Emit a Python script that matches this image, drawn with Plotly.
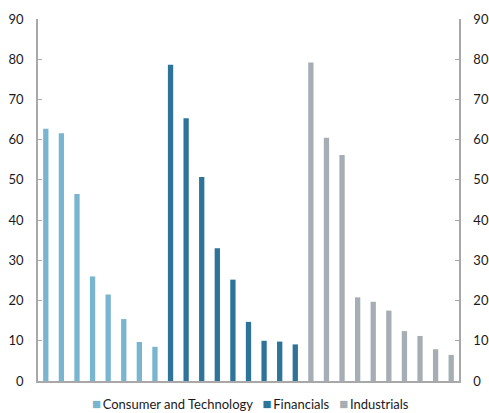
import plotly.graph_objects as go

# Series values, sorted descending within each sector
consumer_tech = [62.7, 61.6, 46.5, 26.0, 21.5, 15.4, 9.7, 8.5]
financials = [78.6, 65.3, 50.7, 33.0, 25.2, 14.7, 10.0, 9.8, 9.1]
industrials = [79.2, 60.5, 56.2, 20.8, 19.7, 17.5, 12.4, 11.2, 7.9, 6.5]

series_names = ["Consumer and Technology", "Financials", "Industrials"]
series_values = [consumer_tech, financials, industrials]
series_colors = ["#7AB5D0", "#2E749A", "#A6AEB5"]

y_ticks = [0, 10, 20, 30, 40, 50, 60, 70, 80, 90]

fig = go.Figure()

pos = 0
for name, vals, col in zip(series_names, series_values, series_colors):
    xs = list(range(pos, pos + len(vals)))
    pos += len(vals)
    fig.add_trace(go.Bar(
        x=xs, y=vals, name=name, width=0.34,
        marker=dict(color=col, line=dict(width=0)),
    ))

# anchor trace so the right-hand axis is drawn
fig.add_trace(go.Scatter(
    x=[0], y=[0], yaxis="y2", mode="markers",
    marker=dict(opacity=0), showlegend=False, hoverinfo="skip",
))

axis_style = dict(
    range=[0, 90], tickvals=y_ticks, showgrid=False, zeroline=False,
    showline=True, linecolor="#A8A8A8", linewidth=1.5,
    ticks="inside", ticklen=4, tickcolor="#A8A8A8", tickwidth=1,
    ticklabelstandoff=10, automargin=False,
    tickfont=dict(family="Lato", size=13, color="#1a1a1a"),
)

# compact legend row built from colored squares and labels
legend_text = "&nbsp;&nbsp;&nbsp;".join(
    f"<span style='color:{c};font-size:15px'>■</span>&#8201;{n}"
    for n, c in zip(series_names, series_colors)
)

fig.update_layout(
    width=489, height=413,
    margin=dict(l=38, r=30, t=19, b=32),
    barmode="overlay",
    plot_bgcolor="white", paper_bgcolor="white",
    font=dict(family="Lato", size=12, color="#1a1a1a"),
    xaxis=dict(range=[-0.5, pos - 0.5], showticklabels=False, showgrid=False,
               zeroline=False, showline=True, linecolor="#A8A8A8", linewidth=1.5,
               ticks="", automargin=False),
    yaxis=dict(side="left", **axis_style),
    yaxis2=dict(side="right", overlaying="y", **axis_style),
    showlegend=False,
    annotations=[dict(
        text=legend_text, xref="paper", yref="paper", x=0.505, y=-0.06,
        xanchor="center", yanchor="middle", showarrow=False,
        font=dict(family="Lato", size=13, color="#1a1a1a"),
    )],
)

fig.write_html("out.html")
